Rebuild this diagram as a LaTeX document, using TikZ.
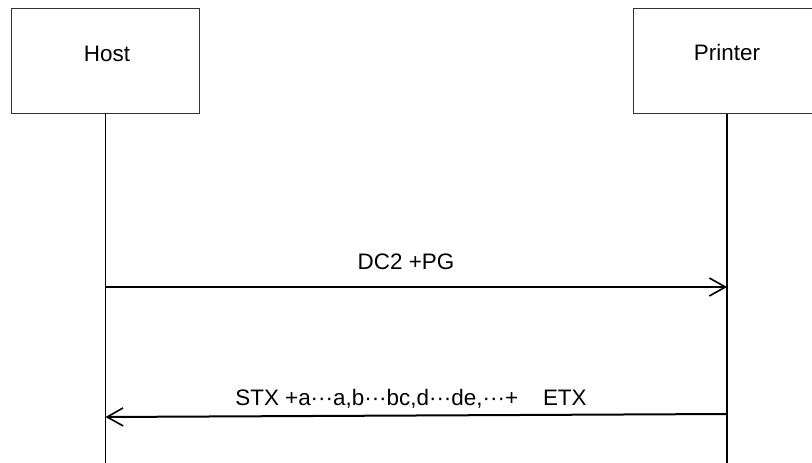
\documentclass[tikz,border=0pt]{standalone}
\usepackage{fontspec}
\setmainfont{Liberation Sans}
\usetikzlibrary{arrows.meta}
\begin{document}
\begin{tikzpicture}[x=1bp,y=-1bp,
  actor/.style={draw=black!80,line width=1bp,minimum width=187bp,minimum height=105bp,inner sep=0pt,anchor=north},
  lifeline/.style={line width=1.5bp},
  msg/.style={line width=2bp,-{Straight Barb[length=16bp,width=18bp,line width=1.6bp]}},
  lbl/.style={font=\fontsize{22.5}{26}\selectfont,inner sep=0pt,anchor=base}]
\useasboundingbox (0,0) rectangle (812,463);
\begin{scope}
\clip (0,0) rectangle (812,463);
\node[actor] (host) at (105.5,8) {};
\node[actor] (printer) at (727,8) {};
\node[lbl] (hostt) at (107,62) {Host};
\node[lbl] (printert) at (727,61) {Printer};
\coordinate (hb) at (105.5,463);
\coordinate (pb) at (727,463);
\draw[lifeline] (host.south) -- (hb);
\draw[lifeline] (printer.south) -- (pb);
\coordinate (m1s) at (105.5,287);
\coordinate (m1e) at (727,287);
\draw[msg] (m1s) -- (m1e);
\node[lbl] (l1) at (406,270) {DC2 +PG};
\coordinate (m2s) at (727,414);
\coordinate (m2e) at (105.5,417);
\draw[msg] (m2s) -- (m2e);
\node[lbl] (l2) at (411,405) {STX +a···a,b···bc,d···de,···+\ \ \ \ ETX};
\end{scope}
\end{tikzpicture}
\end{document}
